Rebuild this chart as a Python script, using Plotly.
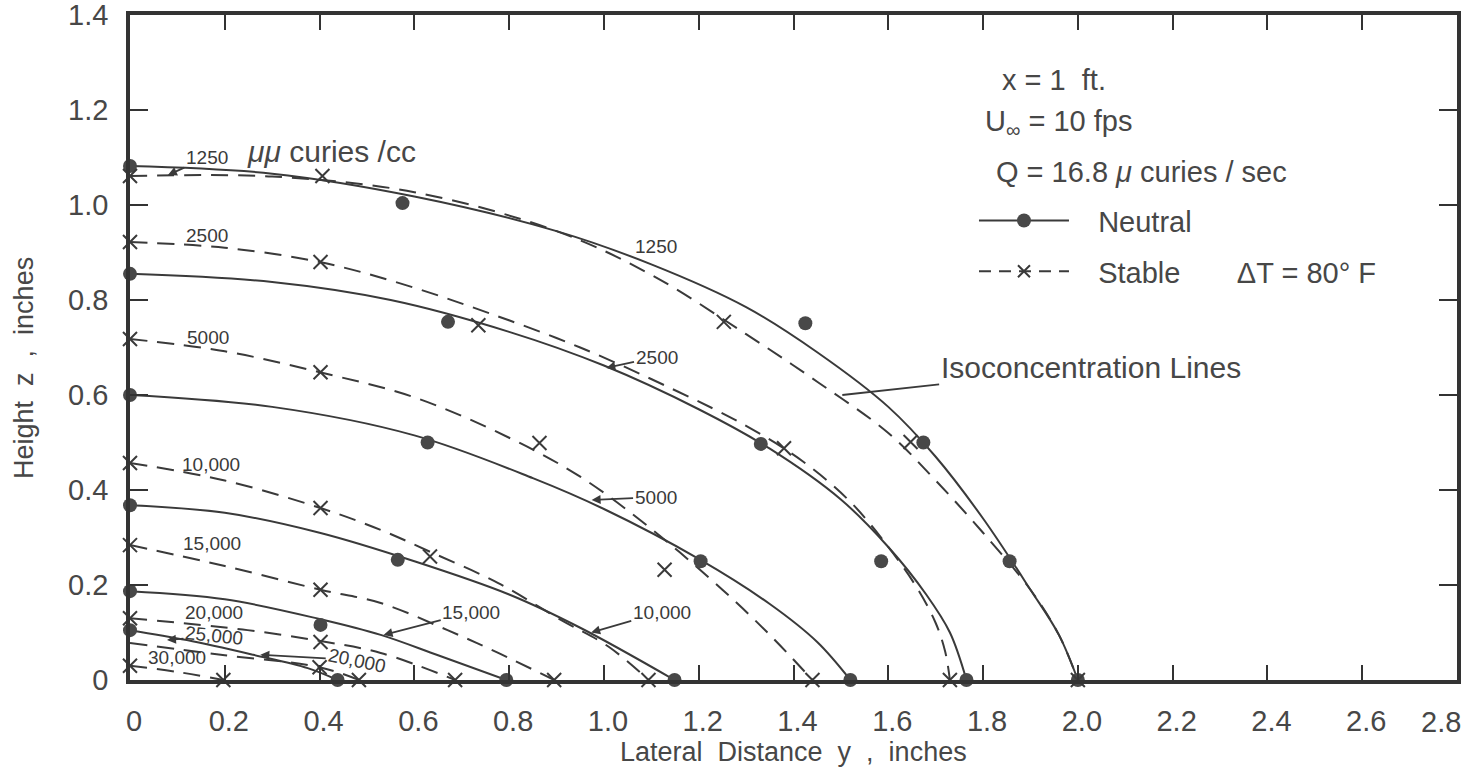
import plotly.graph_objects as go

# ---- isoconcentration lines: lateral distance y (in) vs height z (in) ----
# neutral stratification (solid)
N1250_Y = [0, 0.3, 0.6, 0.9, 1.1, 1.3, 1.45, 1.6, 1.7, 1.8, 1.9, 1.96, 2.0]
N1250_Z = [1.082, 1.066, 1.018, 0.945, 0.875, 0.785, 0.69, 0.575, 0.47, 0.34, 0.19, 0.095, 0]
N2500_Y = [0, 0.3, 0.55, 0.8, 1.0, 1.2, 1.35, 1.5, 1.6, 1.68, 1.73, 1.765]
N2500_Z = [0.855, 0.838, 0.80, 0.733, 0.662, 0.57, 0.487, 0.38, 0.28, 0.18, 0.10, 0]
N5000_Y = [0, 0.3, 0.6, 0.85, 1.0, 1.2, 1.35, 1.45, 1.52]
N5000_Z = [0.60, 0.575, 0.515, 0.425, 0.36, 0.255, 0.16, 0.08, 0]
N10000_Y = [0, 0.2, 0.4, 0.6, 0.8, 0.95, 1.149]
N10000_Z = [0.368, 0.352, 0.31, 0.25, 0.18, 0.11, 0]
N15000_Y = [0, 0.2, 0.402, 0.529, 0.65, 0.794]
N15000_Z = [0.187, 0.17, 0.128, 0.095, 0.052, 0]
N20000_Y = [0, 0.12, 0.26, 0.375, 0.438]
N20000_Z = [0.105, 0.084, 0.053, 0.025, 0]

# stable stratification (dashed)
S1250_Y = [0, 0.3, 0.6, 0.9, 1.1, 1.3, 1.45, 1.6, 1.7, 1.8, 1.9, 1.96, 2.0]
S1250_Z = [1.061, 1.06, 1.027, 0.945, 0.853, 0.728, 0.628, 0.52, 0.42, 0.31, 0.19, 0.095, 0]
S2500_Y = [0, 0.2, 0.4, 0.57, 0.75, 0.95, 1.15, 1.3, 1.42, 1.52, 1.6, 1.66, 1.70, 1.72, 1.73]
S2500_Z = [0.922, 0.91, 0.88, 0.835, 0.775, 0.70, 0.61, 0.535, 0.46, 0.375, 0.28, 0.195, 0.12, 0.06, 0]
S5000_Y = [0, 0.2, 0.4, 0.6, 0.8, 0.95, 1.1, 1.25, 1.35, 1.44]
S5000_Z = [0.718, 0.692, 0.648, 0.595, 0.51, 0.428, 0.318, 0.19, 0.095, 0]
S10000_Y = [0, 0.2, 0.402, 0.529, 0.633, 0.777, 0.91, 1.01, 1.094]
S10000_Z = [0.457, 0.42, 0.362, 0.316, 0.27, 0.204, 0.126, 0.07, 0]
S15000_Y = [0, 0.2, 0.402, 0.529, 0.67, 0.777, 0.895]
S15000_Z = [0.284, 0.24, 0.19, 0.162, 0.105, 0.057, 0]
S20000_Y = [0, 0.248, 0.402, 0.529, 0.686]
S20000_Z = [0.13, 0.105, 0.082, 0.057, 0]
S25000_Y = [0, 0.2, 0.4, 0.483]
S25000_Z = [0.078, 0.052, 0.027, 0]
S30000_Y = [0, 0.1, 0.197]
S30000_Z = [0.03, 0.017, 0]

# ---- measured points ----
NEUTRAL_PTS_Y = [0, 0, 0, 0, 0, 0, 0.575, 0.671, 0.628, 0.565, 0.402, 1.425, 1.331, 1.204,
                 1.674, 1.585, 1.856, 0.438, 0.794, 1.149, 1.52, 1.765, 2.0]
NEUTRAL_PTS_Z = [1.082, 0.855, 0.60, 0.368, 0.187, 0.105, 1.004, 0.754, 0.50, 0.253, 0.116, 0.751, 0.497, 0.25,
                 0.50, 0.25, 0.25, 0, 0, 0, 0, 0, 0]
STABLE_PTS_Y = [0, 0, 0, 0, 0, 0, 0, 0.406, 0.402, 0.402, 0.402, 0.402, 0.402, 0.40,
                0.735, 0.864, 0.633, 1.253, 1.38, 1.128, 1.647,
                0.197, 0.483, 0.686, 0.895, 1.094, 1.44, 1.73, 2.0]
STABLE_PTS_Z = [1.061, 0.922, 0.718, 0.457, 0.284, 0.13, 0.03, 1.061, 0.88, 0.648, 0.362, 0.19, 0.08, 0.027,
                0.747, 0.499, 0.26, 0.754, 0.488, 0.232, 0.501,
                0, 0, 0, 0, 0, 0, 0, 0]

# ---- axes ----
X_TICKS = [0, 0.2, 0.4, 0.6, 0.8, 1.0, 1.2, 1.4, 1.6, 1.8, 2.0, 2.2, 2.4, 2.6, 2.8]
X_TICKTEXT = ["0", "0.2", "0.4", "0.6", "0.8", "1.0", "1.2", "1.4", "1.6", "1.8", "2.0", "2.2", "2.4", "2.6", "2.8"]
Y_TICKS = [0, 0.2, 0.4, 0.6, 0.8, 1.0, 1.2, 1.4]
Y_TICKTEXT = ["0", "0.2", "0.4", "0.6", "0.8", "1.0", "1.2", "1.4"]

# curve labels without leaders: (text, y, z)
PLAIN_LABELS = [("2500", 0.163, 0.935), ("5000", 0.165, 0.722), ("10,000", 0.171, 0.453),
                ("15,000", 0.173, 0.288), ("20,000", 0.178, 0.143), ("30,000", 0.10, 0.048),
                ("1250", 1.109, 0.912)]
# curve labels with leaders: (text, text y, text z, tip y, tip z, angle)
LEADER_LABELS = [("1250", 0.162, 1.10, 0.08, 1.063, 0), ("25,000", 0.178, 0.093, 0.078, 0.084, 6),
                 ("20,000", 0.478, 0.042, 0.275, 0.053, 12), ("15,000", 0.72, 0.143, 0.535, 0.095, 0),
                 ("10,000", 1.122, 0.143, 0.973, 0.10, 0), ("5000", 1.109, 0.385, 0.974, 0.379, 0),
                 ("2500", 1.111, 0.68, 1.005, 0.657, 0)]

INK = "#3a3a3a"
TXT = "#474747"
FONT = "Liberation Sans"

fig = go.Figure()

neutral = [(N1250_Y, N1250_Z), (N2500_Y, N2500_Z), (N5000_Y, N5000_Z),
           (N10000_Y, N10000_Z), (N15000_Y, N15000_Z), (N20000_Y, N20000_Z)]
stable = [(S1250_Y, S1250_Z), (S2500_Y, S2500_Z), (S5000_Y, S5000_Z), (S10000_Y, S10000_Z),
          (S15000_Y, S15000_Z), (S20000_Y, S20000_Z), (S25000_Y, S25000_Z), (S30000_Y, S30000_Z)]

for ys, zs in neutral:
    fig.add_trace(go.Scatter(x=ys, y=zs, mode="lines",
                             line=dict(color=INK, width=2, shape="spline", smoothing=1.0),
                             showlegend=False, hoverinfo="skip", cliponaxis=False))
for ys, zs in stable:
    fig.add_trace(go.Scatter(x=ys, y=zs, mode="lines",
                             line=dict(color=INK, width=2, dash="17px,10px", shape="spline", smoothing=1.0),
                             showlegend=False, hoverinfo="skip", cliponaxis=False))

fig.add_trace(go.Scatter(x=NEUTRAL_PTS_Y, y=NEUTRAL_PTS_Z, mode="markers",
                         marker=dict(symbol="circle", size=14, color="#484848", line=dict(width=0)),
                         showlegend=False, cliponaxis=False))
fig.add_trace(go.Scatter(x=STABLE_PTS_Y, y=STABLE_PTS_Z, mode="markers",
                         marker=dict(symbol="x-thin-open", size=14, color=INK, line=dict(width=2, color=INK)),
                         showlegend=False, cliponaxis=False))

# legend keys
fig.add_trace(go.Scatter(x=[None], y=[None], mode="lines+markers", name="\u00a0\u00a0\u00a0Neutral",
                         legendgroup="n", line=dict(color=INK, width=2),
                         marker=dict(symbol="circle", size=14, color="#484848")))
fig.add_trace(go.Scatter(x=[None], y=[None], mode="lines+markers",
                         name="\u00a0\u00a0\u00a0Stable" + "\u00a0" * 7 + "\u0394T = 80\u00b0 F",
                         legendgroup="s", line=dict(color=INK, width=2, dash="12px,8px"),
                         marker=dict(symbol="x-thin-open", size=12, color=INK, line=dict(width=2, color=INK))))

annotations = []
for text, xv, yv in PLAIN_LABELS:
    annotations.append(dict(x=xv, y=yv, xref="x", yref="y", text=text, showarrow=False,
                            font=dict(family=FONT, size=19, color="#3a3a3a")))
for text, tx, tz, hx, hz, ang in LEADER_LABELS:
    annotations.append(dict(x=hx, y=hz, ax=tx, ay=tz, xref="x", yref="y", axref="x", ayref="y",
                            text=text, textangle=ang, showarrow=True, arrowhead=2, arrowsize=1,
                            arrowwidth=1.8, arrowcolor=INK, font=dict(family=FONT, size=19, color="#3a3a3a")))

# the last x tick label sits flush with the right frame instead of centred on its tick
annotations.append(dict(x=X_TICKS[-1], y=0, xref="x", yref="paper", xanchor="right", yanchor="middle",
                        xshift=6, yshift=-42, text=X_TICKTEXT[-1], showarrow=False,
                        font=dict(family=FONT, size=29, color=TXT)))

annotations += [
    dict(x=0.425, y=1.112, xref="x", yref="y", text="<i>\u03bc\u03bc</i> curies /cc", showarrow=False,
         font=dict(family=FONT, size=30, color=TXT)),
    dict(x=1.503, y=0.60, ax=2.027, ay=0.657, xref="x", yref="y", axref="x", ayref="y",
         text="Isoconcentration Lines", showarrow=True, arrowhead=0, arrowwidth=1.8, arrowcolor=INK,
         font=dict(family=FONT, size=30, color=TXT)),
    dict(x=1.949, y=1.263, xref="x", yref="y", text="x = 1  ft.", showarrow=False,
         font=dict(family=FONT, size=29, color=TXT)),
    dict(x=1.96, y=1.172, xref="x", yref="y", text="U<sub>\u221e</sub> = 10 fps", showarrow=False,
         font=dict(family=FONT, size=29, color=TXT)),
    dict(x=2.135, y=1.07, xref="x", yref="y", text="Q = 16.8 <i>\u03bc</i> curies / sec", showarrow=False,
         font=dict(family=FONT, size=29, color=TXT)),
    dict(x=0.5, y=-0.108, xref="paper", yref="paper", xanchor="center", yanchor="middle",
         text="Lateral\u00a0\u00a0Distance\u00a0\u00a0y\u00a0\u00a0,\u00a0\u00a0inches", showarrow=False,
         font=dict(family=FONT, size=27, color=TXT)),
    dict(x=-0.08, y=0.469, xref="paper", yref="paper", xanchor="center", yanchor="middle",
         text="Height\u00a0\u00a0z\u00a0\u00a0,\u00a0\u00a0inches", showarrow=False, textangle=-90,
         font=dict(family=FONT, size=27, color=TXT)),
]

axis_common = dict(showline=True, linewidth=3.5, linecolor="#333333", mirror="ticks", ticks="inside",
                   tickwidth=2, tickcolor="#333333", showgrid=False, zeroline=False, automargin=False,
                   ticklabeloverflow="allow", tickfont=dict(family=FONT, size=29, color=TXT))

fig.update_layout(
    width=1464, height=778,
    margin=dict(l=130, r=7, t=15, b=98),
    paper_bgcolor="white", plot_bgcolor="white",
    # the 2.8 tick coincides with the right frame; its label is the annotation above
    xaxis=dict(range=[0, 2.8], tickvals=X_TICKS[:-1], ticktext=X_TICKTEXT[:-1], ticklen=15,
               ticklabelstandoff=12, ticklabelshift=4, **axis_common),
    yaxis=dict(range=[0, 1.4], tickvals=Y_TICKS, ticktext=Y_TICKTEXT, ticklen=18,
               ticklabelstandoff=12, **axis_common),
    legend=dict(x=0.636, y=0.729, xanchor="left", yanchor="top", bgcolor="rgba(0,0,0,0)",
                itemwidth=90, tracegroupgap=10, traceorder="grouped",
                font=dict(family=FONT, size=29, color=TXT)),
    annotations=annotations,
    showlegend=True,
)

fig.write_html("out.html")
